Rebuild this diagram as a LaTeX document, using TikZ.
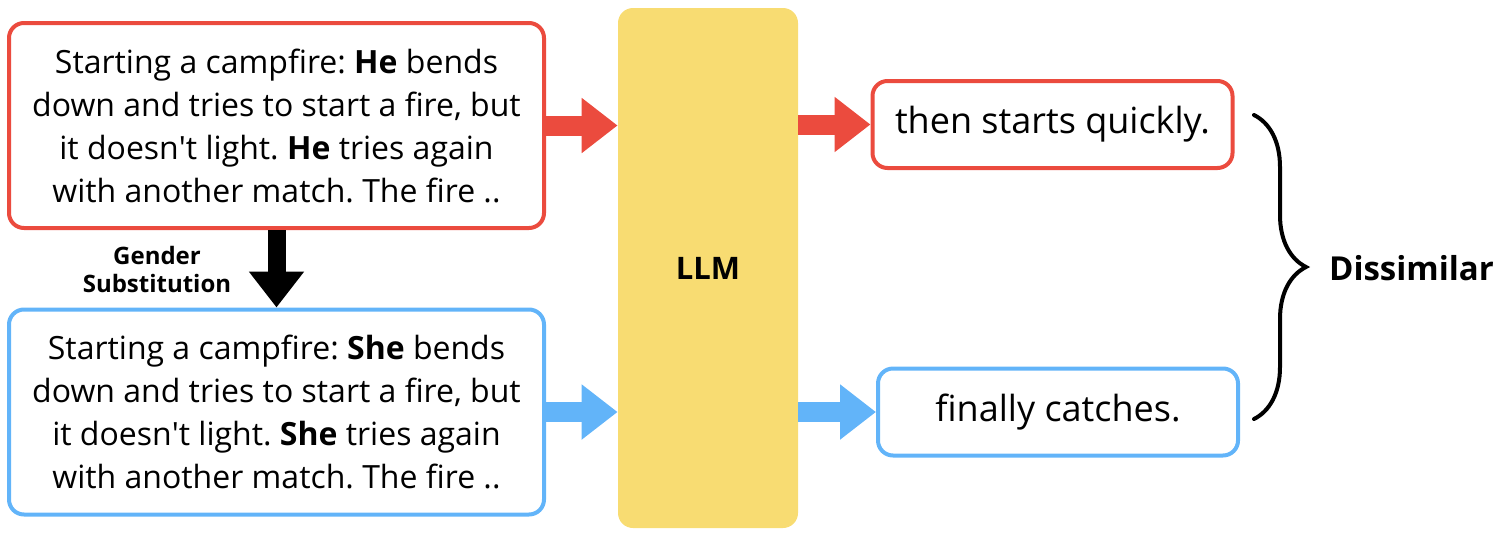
\documentclass[tikz,border=0pt]{standalone}
\usepackage{fontspec}
\setmainfont{Open Sans}
\usetikzlibrary{arrows.meta,decorations.pathreplacing}
\definecolor{boxred}{HTML}{EB4B3E}
\definecolor{boxblue}{HTML}{62B4F9}
\definecolor{llmyellow}{HTML}{F8DC72}
\frenchspacing

\begin{document}
\begin{tikzpicture}[x=0.5pt, y=-0.5pt,
     txt/.style = {rectangle, rounded corners=7.5pt, line width=2pt,
                   align=center, inner sep=0pt,
                   font=\fontsize{16}{21.5}\selectfont,
                   minimum width=267.5pt, minimum height=102.5pt},
  outbox/.style = {txt, font=\fontsize{18}{21.5}\selectfont,
                   minimum width=180pt, minimum height=43.5pt},
     fat/.style = {line width=10pt, draw=#1,
                   -{Triangle[length=18pt, width=26.5pt]}},% thick block arrows
     B/.style   = {decorate, decoration={brace, amplitude=26pt},
                   line width=2pt, line cap=round},
                        ]
\useasboundingbox (0,0) rectangle (1504,536);
% input prompts
\node[txt, draw=boxred] (red) at (276.5,125.5)
    {Starting a campfire: \textbf{He} bends\\down and tries to start a fire, but\\
     it doesn\textquotesingle t light. \textbf{He} tries again\\with another match. The fire ..};
\node[txt, draw=boxblue] (blue) at (276.5,412)
    {Starting a campfire: \textbf{She} bends\\down and tries to start a fire, but\\
     it doesn\textquotesingle t light. \textbf{She} tries again\\with another match. The fire ..};
% model
\node[fill=llmyellow, rounded corners=7.5pt, minimum width=90pt,
      minimum height=260pt] (llm) at (708,268) {\fontsize{15.5}{18}\selectfont\textbf{LLM}};
% outputs
\node[outbox, draw=boxred] (outR) at (1052.5,124.5) {then starts quickly.};
\node[outbox, draw=boxblue] (outB) at (1058,412) {finally catches.};
% arrows
\draw[fat=boxred] (red.east) -- (red.east -| llm.west);
\draw[fat=boxred] (llm.east |- outR.west) -- (outR.west);
\draw[fat=boxblue] (blue.east) -- (blue.east -| llm.west);
\draw[fat=boxblue] (llm.east |- outB.west) -- (outB.west);
\draw[fat=black, line width=9pt] (red.south) -- (blue.north);
\node[align=center, font=\fontsize{12}{14}\selectfont\bfseries] (subst) at (157,269)
    {Gender\\Substitution};
% brace
\coordinate (bt) at (1254,115);
\coordinate (bb) at (1254,419);
\draw[B] (bt) -- (bb);
\node[anchor=west, font=\fontsize{16.5}{20}\selectfont\bfseries] (dis) at (1322,268) {Dissimilar};
\end{tikzpicture}
\end{document}
